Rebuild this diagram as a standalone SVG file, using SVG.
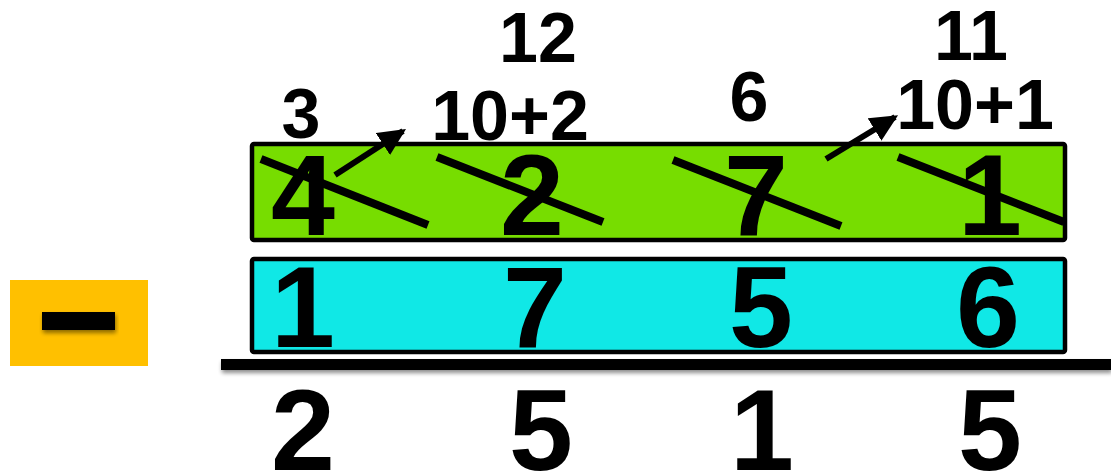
<svg xmlns="http://www.w3.org/2000/svg" width="1111" height="476" viewBox="0 0 1111 476">
<defs>
<style>
.t{font-family:"Liberation Sans",Arial,sans-serif;font-weight:bold;fill:#000;text-anchor:middle}
.big{font-size:115px}
.sm{font-size:70px}
.strike{stroke:#000;stroke-width:8;fill:none}
.arr{stroke:#000;stroke-width:6;fill:none}
.box{stroke:#000;stroke-width:4.5}
</style>
<filter id="sh" x="-5%" y="-50%" width="110%" height="300%">
<feGaussianBlur in="SourceAlpha" stdDeviation="2"/>
<feOffset dx="1" dy="3"/>
<feComponentTransfer><feFuncA type="linear" slope="0.45"/></feComponentTransfer>
<feMerge><feMergeNode/><feMergeNode in="SourceGraphic"/></feMerge>
</filter>
<marker id="ah" markerWidth="5" markerHeight="5" refX="4" refY="2.2" orient="auto" markerUnits="strokeWidth">
<path d="M0,0 L4.6,2.2 L0,4.4 Z" fill="#000"/>
</marker>
</defs>
<rect width="1111" height="476" fill="#fff"/>

<g id="operator">
<rect x="10" y="280" width="138" height="86" fill="#FFC000"/>
<rect x="42" y="312" width="73" height="18" fill="#000" filter="url(#sh)"/>
</g>

<g id="minuend">
<rect class="box" x="252" y="144" width="813" height="96" rx="2" fill="#77DD00"/>
<text class="t big" x="303" y="235">4</text>
<text class="t big" x="532" y="235">2</text>
<text class="t big" x="756" y="235">7</text>
<text class="t big" x="990" y="235">1</text>
</g>

<g id="subtrahend">
<rect class="box" x="252" y="259" width="813" height="93" rx="2" fill="#10E8E6"/>
<text class="t big" x="303" y="347">1</text>
<text class="t big" x="535" y="347">7</text>
<text class="t big" x="761" y="347">5</text>
<text class="t big" x="988" y="347">6</text>
</g>

<g id="rule">
<rect x="221" y="359" width="890" height="11" fill="#000" filter="url(#sh)"/>
</g>

<g id="result">
<text class="t big" x="303" y="470">2</text>
<text class="t big" x="541" y="470">5</text>
<text class="t big" x="762" y="470">1</text>
<text class="t big" x="990" y="470">5</text>
</g>

<g id="borrow-labels">
<text class="t sm" x="301" y="138">3</text>
<text class="t sm" x="510" y="140">10+2</text>
<text class="t sm" x="538" y="62">12</text>
<text class="t sm" x="749" y="121">6</text>
<text class="t sm" x="975" y="129">10+1</text>
<text class="t sm" x="971" y="60">11</text>
</g>

<g id="connectors">
<line class="strike" x1="261" y1="159" x2="428" y2="225"/>
<line class="strike" x1="437" y1="157" x2="603" y2="222"/>
<line class="strike" x1="673" y1="160" x2="841" y2="226"/>
<line class="strike" x1="898" y1="157" x2="1064" y2="222"/>
<line class="arr" x1="335" y1="175" x2="403" y2="131" marker-end="url(#ah)"/>
<line class="arr" x1="826" y1="159" x2="895" y2="117" marker-end="url(#ah)"/>
</g>
</svg>
